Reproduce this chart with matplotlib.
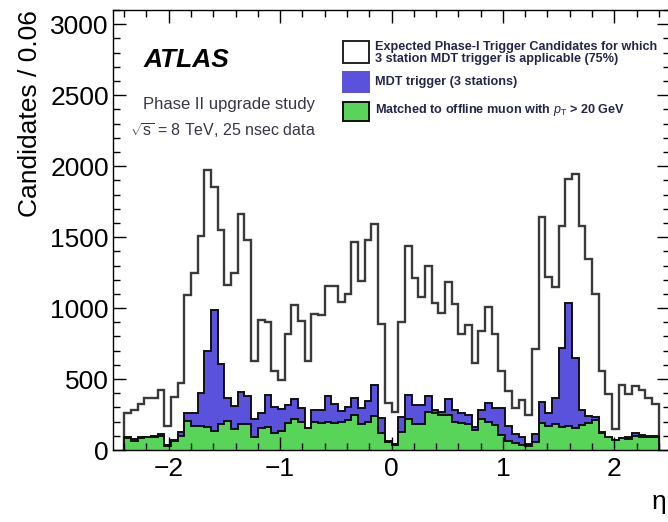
import matplotlib
matplotlib.use("Agg")
import matplotlib.pyplot as plt
import numpy as np
from matplotlib.patches import Rectangle
from matplotlib.ticker import MultipleLocator

plt.rcParams['font.family'] = ['Liberation Sans', 'DejaVu Sans']
plt.rcParams['mathtext.fontset'] = 'custom'
plt.rcParams['mathtext.rm'] = 'Liberation Sans'
plt.rcParams['mathtext.it'] = 'Liberation Sans:italic'
plt.rcParams['mathtext.bf'] = 'Liberation Sans:bold'

# eta binning: 80 bins of 0.06 from -2.4 to 2.4
eta_lo, eta_hi, n_bins = -2.4, 2.4, 80

# expected Phase-I candidates (3 station MDT trigger applicable)
expected = [
    260, 280, 325, 370, 370, 425, 168, 375, 470, 1090,
    1245, 1505, 1970, 1850, 1552, 1162, 1247, 1664, 1480, 625,
    915, 902, 555, 492, 820, 1020, 907, 625, 961, 950,
    1158, 1158, 1045, 1102, 1468, 1190, 1483, 1592, 885, 328,
    265, 905, 1435, 1212, 1080, 1296, 1034, 964, 1184, 1026,
    820, 879, 615, 841, 1010, 815, 555, 415, 297, 352,
    250, 713, 1641, 1220, 1150, 1578, 1910, 1948, 1578, 1345,
    1096, 560, 392, 146, 457, 395, 453, 425, 366, 325,
]

# MDT trigger (3 stations)
mdt = [
    89, 75, 89, 94, 98, 110, 35, 70, 129, 258,
    258, 403, 698, 985, 609, 370, 309, 410, 382, 220,
    262, 385, 305, 290, 316, 356, 298, 145, 285, 285,
    380, 325, 272, 305, 368, 295, 345, 460, 225, 65,
    42, 234, 387, 316, 316, 380, 281, 270, 356, 285,
    258, 246, 162, 283, 328, 297, 293, 170, 110, 90,
    45, 110, 338, 258, 366, 718, 1034, 648, 281, 240,
    234, 125, 88, 50, 85, 92, 117, 105, 102, 98,
]

# matched to offline muon with pT > 20 GeV
matched = [
    82, 66, 82, 89, 89, 98, 30, 66, 98, 206,
    169, 169, 159, 136, 183, 206, 145, 183, 185, 90,
    155, 162, 118, 135, 188, 220, 200, 152, 200, 188,
    200, 193, 195, 215, 250, 184, 200, 240, 117, 57,
    35, 129, 216, 180, 180, 268, 258, 246, 246, 199,
    188, 183, 141, 216, 199, 176, 105, 65, 50, 38,
    25, 60, 190, 170, 180, 165, 168, 158, 178, 190,
    211, 117, 89, 70, 82, 75, 98, 94, 89, 89,
]

labels = [
    "Expected Phase-I Trigger Candidates for which\n3 station MDT trigger is applicable (75%)",
    "MDT trigger (3 stations)",
    r"Matched to offline muon with $p_{\mathrm{T}}$ > 20 GeV",
]

blue = "#5a52dc"
green = "#58d558"
edges = np.linspace(eta_lo, eta_hi, n_bins + 1)

fig = plt.figure(figsize=(6.68, 5.22), dpi=100)
ax = fig.add_axes([0.1692, 0.1379, 0.8338, 0.8429])

ax.stairs(expected, edges, fill=True, facecolor="white", edgecolor="#3a3a3a", lw=1.7)
ax.stairs(mdt, edges, fill=True, facecolor=blue, edgecolor="#111111", lw=1.4)
ax.stairs(matched, edges, fill=True, facecolor=green, edgecolor="#111111", lw=1.4)

ax.set_xlim(-2.5, 2.5)
ax.set_ylim(0, 3100)
ax.xaxis.set_major_locator(MultipleLocator(1))
ax.xaxis.set_minor_locator(MultipleLocator(0.2))
ax.yaxis.set_major_locator(MultipleLocator(500))
ax.yaxis.set_minor_locator(MultipleLocator(100))
ax.tick_params(which="both", direction="in", top=True, right=True, labelsize=19, width=1)
ax.tick_params(which="major", length=9.5)
ax.tick_params(which="minor", length=4.8)
ax.tick_params(axis="x", pad=5)
ax.tick_params(axis="y", pad=3)
ax.set_xticks([-2, -1, 0, 1, 2])
ax.set_xticklabels(["\u22122", "\u22121", "0", "1", "2"])
for s in ax.spines.values():
    s.set_linewidth(1)

ax.set_ylabel("Candidates / 0.06", fontsize=19, loc="top", labelpad=6)
ax.set_xlabel("\u03b7", fontsize=19, ha="right")
ax.xaxis.set_label_coords(0.993, -0.092)

ax.text(0.054, 0.886, "ATLAS", transform=ax.transAxes, fontsize=19,
        fontweight="bold", fontstyle="italic", va="center", ha="left")
ax.text(0.054, 0.786, "Phase II upgrade study", transform=ax.transAxes,
        fontsize=12, color="#3a3448", va="center", ha="left")
ax.text(0.0305, 0.725, r"$\sqrt{\mathrm{s}}$ = 8 TeV, 25 nsec data", transform=ax.transAxes,
        fontsize=11.5, color="#3a3448", va="center", ha="left")

# legend, ROOT style
box_x, box_w = 0.413, 0.047
boxes = [(0.880, 0.050, "white", "#222222"),
         (0.814, 0.0455, blue, blue),
         (0.748, 0.044, green, "#111111")]
text_y = [0.903, 0.836, 0.773]
for (by, bh, fc, ec), ty, lab in zip(boxes, text_y, labels):
    ax.add_patch(Rectangle((box_x, by), box_w, bh, transform=ax.transAxes,
                           facecolor=fc, edgecolor=ec, lw=1.4, zorder=5))
    ax.text(0.470, ty, lab, transform=ax.transAxes, fontsize=9.1, fontweight="bold",
            color="#25254a", va="center", ha="left", linespacing=1.0, zorder=5)

fig.savefig("out.png", dpi=100)
